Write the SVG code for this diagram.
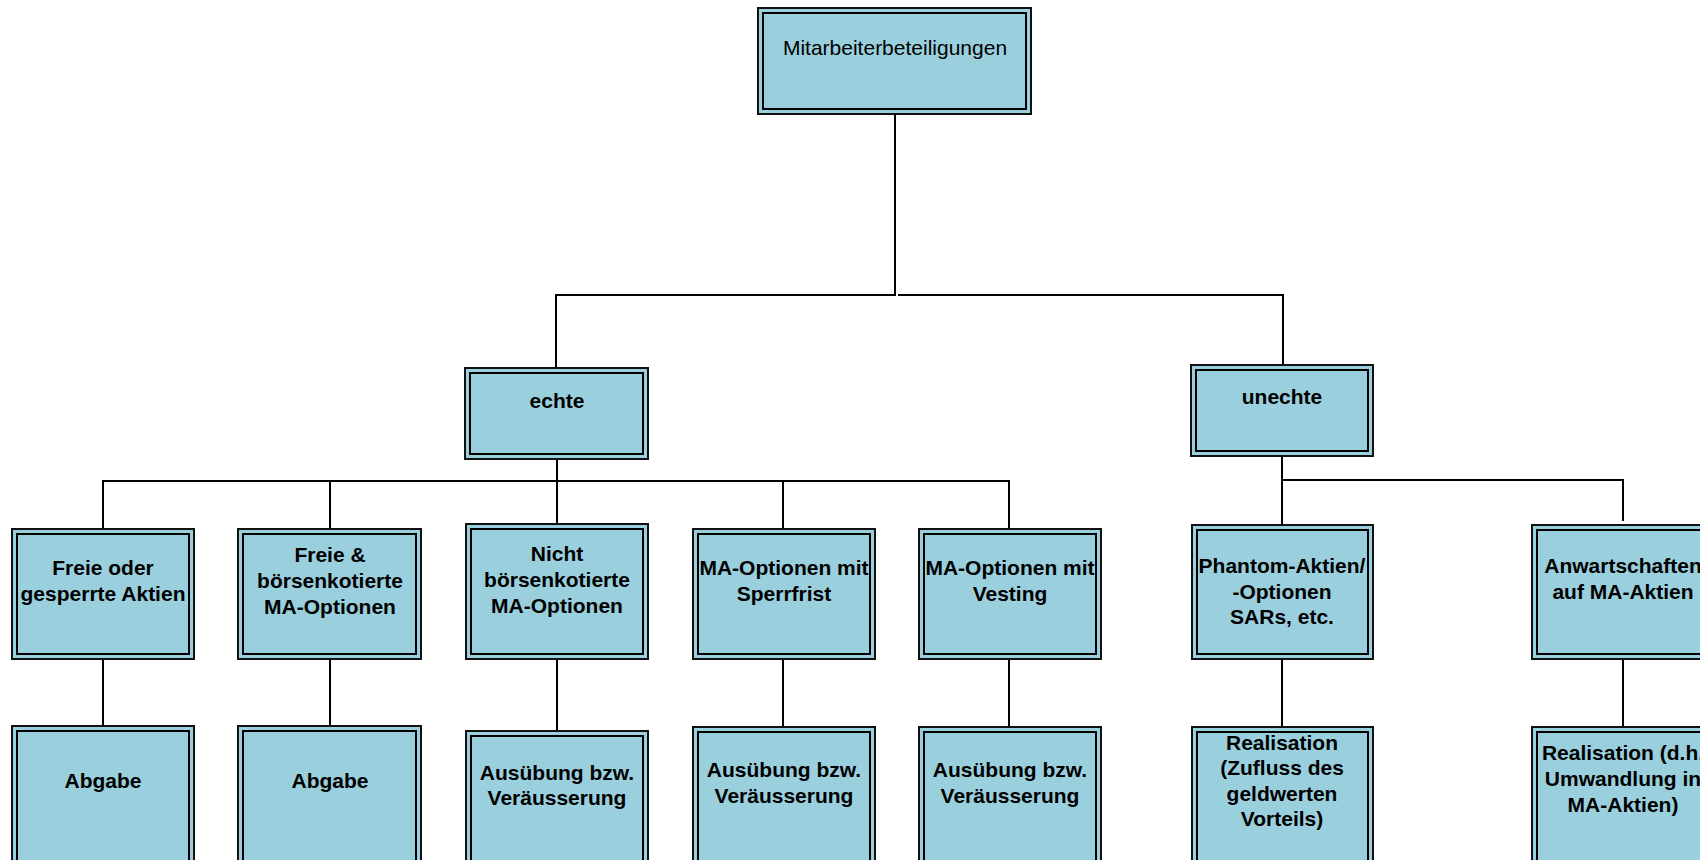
<svg xmlns="http://www.w3.org/2000/svg" width="1700" height="860" viewBox="0 0 1700 860">
<style>
.o{fill:#9AD0DE;stroke:#111;stroke-width:2}
.i{fill:none;stroke:#000;stroke-width:2}
.c{fill:none;stroke:#000;stroke-width:2}
text{font-family:"Liberation Sans",Arial,sans-serif;font-size:21px;text-anchor:middle;fill:#000}
.b{font-weight:bold}
</style>
<rect width="1700" height="860" fill="#fff"/>
<g id="connectors">
<path class="c" d="M895,115 V295 H556 V368"/>
<path class="c" d="M898,295 H1283 V365"/>
<path class="c" d="M557,453 V524"/>
<path class="c" d="M103,529 V481 H1009 V529"/>
<path class="c" d="M330,481 V529"/>
<path class="c" d="M783,481 V529"/>
<path class="c" d="M1282,450 V525"/>
<path class="c" d="M1282,480 H1623 V521"/>
<path class="c" d="M103,659 V726"/>
<path class="c" d="M330,659 V726"/>
<path class="c" d="M557,659 V731"/>
<path class="c" d="M783,659 V727"/>
<path class="c" d="M1009,659 V727"/>
<path class="c" d="M1282,659 V727"/>
<path class="c" d="M1623,659 V727"/>
</g>
<g id="n-root"><rect class="o" x="758" y="8" width="273" height="106"/><rect class="i" x="763" y="13" width="263" height="96"/><text x="895" y="55">Mitarbeiterbeteiligungen</text></g>
<g id="n-echte"><rect class="o" x="465" y="368" width="183" height="91"/><rect class="i" x="470" y="373" width="173" height="81"/><text class="b" x="557" y="408">echte</text></g>
<g id="n-unechte"><rect class="o" x="1191" y="365" width="182" height="91"/><rect class="i" x="1196" y="370" width="172" height="81"/><text class="b" x="1282" y="404">unechte</text></g>

<g id="n-freie"><rect class="o" x="12" y="529" width="182" height="130"/><rect class="i" x="17" y="534" width="172" height="120"/><text class="b" x="103" y="575">Freie oder</text><text class="b" x="103" y="601">gesperrte Aktien</text></g>
<g id="n-freieopt"><rect class="o" x="238" y="529" width="183" height="130"/><rect class="i" x="243" y="534" width="173" height="120"/><text class="b" x="330" y="562">Freie &amp;</text><text class="b" x="330" y="588">börsenkotierte</text><text class="b" x="330" y="614">MA-Optionen</text></g>
<g id="n-nicht"><rect class="o" x="466" y="524" width="182" height="135"/><rect class="i" x="471" y="529" width="172" height="125"/><text class="b" x="557" y="561">Nicht</text><text class="b" x="557" y="587">börsenkotierte</text><text class="b" x="557" y="613">MA-Optionen</text></g>
<g id="n-sperr"><rect class="o" x="693" y="529" width="182" height="130"/><rect class="i" x="698" y="534" width="172" height="120"/><text class="b" x="784" y="575">MA-Optionen mit</text><text class="b" x="784" y="601">Sperrfrist</text></g>
<g id="n-vest"><rect class="o" x="919" y="529" width="182" height="130"/><rect class="i" x="924" y="534" width="172" height="120"/><text class="b" x="1010" y="575">MA-Optionen mit</text><text class="b" x="1010" y="601">Vesting</text></g>
<g id="n-phantom"><rect class="o" x="1192" y="525" width="181" height="134"/><rect class="i" x="1197" y="530" width="171" height="124"/><text class="b" x="1282" y="573">Phantom-Aktien/</text><text class="b" x="1282" y="599">-Optionen</text><text class="b" x="1282" y="624">SARs, etc.</text></g>
<g id="n-anw"><rect class="o" x="1532" y="525" width="182" height="134"/><rect class="i" x="1537" y="530" width="172" height="124"/><text class="b" x="1623" y="573">Anwartschaften</text><text class="b" x="1623" y="599">auf MA-Aktien</text></g>

<g id="n-abgabe1"><rect class="o" x="12" y="726" width="182" height="145"/><rect class="i" x="17" y="731" width="172" height="135"/><text class="b" x="103" y="788">Abgabe</text></g>
<g id="n-abgabe2"><rect class="o" x="238" y="726" width="183" height="145"/><rect class="i" x="243" y="731" width="173" height="135"/><text class="b" x="330" y="788">Abgabe</text></g>
<g id="n-aus1"><rect class="o" x="466" y="731" width="182" height="140"/><rect class="i" x="471" y="736" width="172" height="130"/><text class="b" x="557" y="780">Ausübung bzw.</text><text class="b" x="557" y="805">Veräusserung</text></g>
<g id="n-aus2"><rect class="o" x="693" y="727" width="182" height="144"/><rect class="i" x="698" y="732" width="172" height="134"/><text class="b" x="784" y="777">Ausübung bzw.</text><text class="b" x="784" y="803">Veräusserung</text></g>
<g id="n-aus3"><rect class="o" x="919" y="727" width="182" height="144"/><rect class="i" x="924" y="732" width="172" height="134"/><text class="b" x="1010" y="777">Ausübung bzw.</text><text class="b" x="1010" y="803">Veräusserung</text></g>
<g id="n-real1"><rect class="o" x="1192" y="727" width="181" height="144"/><rect class="i" x="1197" y="732" width="171" height="134"/><text class="b" x="1282" y="750">Realisation</text><text class="b" x="1282" y="775">(Zufluss des</text><text class="b" x="1282" y="801">geldwerten</text><text class="b" x="1282" y="826">Vorteils)</text></g>
<g id="n-real2"><rect class="o" x="1532" y="727" width="182" height="144"/><rect class="i" x="1537" y="732" width="172" height="134"/><text class="b" x="1623" y="760">Realisation (d.h.</text><text class="b" x="1623" y="786">Umwandlung in</text><text class="b" x="1623" y="812">MA-Aktien)</text></g>
</svg>
